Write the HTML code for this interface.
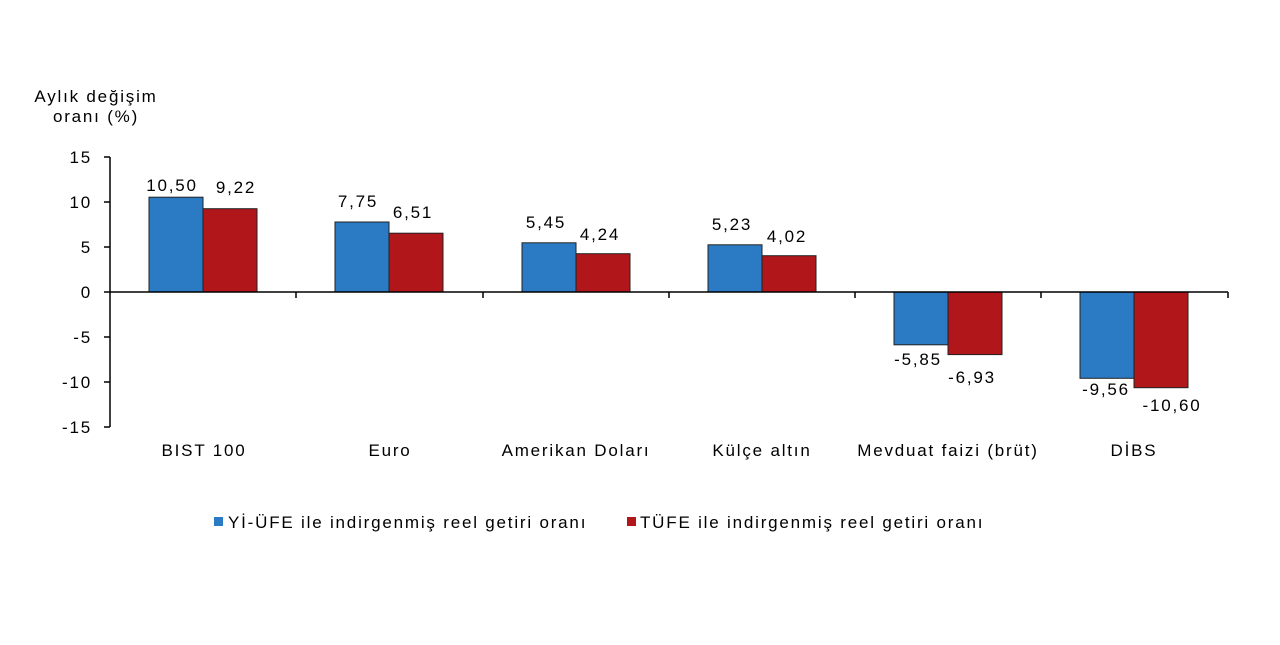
<!DOCTYPE html>
<html><head><meta charset="utf-8"><style>body{margin:0;background:#fff}</style></head><body>
<svg width="1280" height="640" xmlns="http://www.w3.org/2000/svg" font-family="Liberation Sans, sans-serif" fill="#000" letter-spacing="1.8">
<rect width="1280" height="640" fill="#fff"/>
<text x="96" y="102" font-size="17" text-anchor="middle">Aylık değişim</text>
<text x="96" y="122" font-size="17" text-anchor="middle">oranı (%)</text>
<g font-size="17" text-anchor="end">
<text x="92" y="163">15</text><text x="92" y="208">10</text><text x="92" y="253">5</text><text x="92" y="298">0</text>
<text x="92" y="343">-5</text><text x="92" y="388">-10</text><text x="92" y="433">-15</text>
</g>
<g stroke="#000" stroke-width="1.5">
<line x1="110" y1="157" x2="110" y2="427"/>
<line x1="104" y1="157" x2="110" y2="157"/><line x1="104" y1="202" x2="110" y2="202"/><line x1="104" y1="247" x2="110" y2="247"/>
<line x1="104" y1="337" x2="110" y2="337"/><line x1="104" y1="382" x2="110" y2="382"/><line x1="104" y1="427" x2="110" y2="427"/>
</g>
<g stroke="#222" stroke-width="1">
<rect x="149" y="197.2" width="54" height="94.8" fill="#2a7bc4"/><rect x="203" y="208.7" width="54" height="83.3" fill="#b0161a"/>
<rect x="335" y="222" width="54" height="70" fill="#2a7bc4"/><rect x="389" y="233.2" width="54" height="58.8" fill="#b0161a"/>
<rect x="522" y="242.8" width="54" height="49.2" fill="#2a7bc4"/><rect x="576" y="253.7" width="54" height="38.3" fill="#b0161a"/>
<rect x="708" y="244.8" width="54" height="47.2" fill="#2a7bc4"/><rect x="762" y="255.7" width="54" height="36.3" fill="#b0161a"/>
<rect x="894" y="292" width="54" height="52.8" fill="#2a7bc4"/><rect x="948" y="292" width="54" height="62.6" fill="#b0161a"/>
<rect x="1080" y="292" width="54" height="86.3" fill="#2a7bc4"/><rect x="1134" y="292" width="54" height="95.7" fill="#b0161a"/>
</g>
<g stroke="#000" stroke-width="1.5">
<line x1="104" y1="292" x2="1228" y2="292"/>
<line x1="296" y1="292" x2="296" y2="298"/><line x1="483" y1="292" x2="483" y2="298"/><line x1="669" y1="292" x2="669" y2="298"/>
<line x1="855" y1="292" x2="855" y2="298"/><line x1="1041" y1="292" x2="1041" y2="298"/><line x1="1228" y1="292" x2="1228" y2="298"/>
</g>
<g font-size="17" text-anchor="middle">
<text x="172" y="191">10,50</text><text x="236" y="193">9,22</text>
<text x="358" y="207">7,75</text><text x="413" y="218">6,51</text>
<text x="546" y="228">5,45</text><text x="600" y="240">4,24</text>
<text x="732" y="230">5,23</text><text x="787" y="242">4,02</text>
<text x="918" y="365">-5,85</text><text x="972" y="383">-6,93</text>
<text x="1106" y="395">-9,56</text><text x="1172" y="411">-10,60</text>
<text x="204" y="456">BIST 100</text><text x="390" y="456">Euro</text><text x="576" y="456">Amerikan Doları</text>
<text x="762" y="456">Külçe altın</text><text x="948" y="456">Mevduat faizi (brüt)</text><text x="1134" y="456">DİBS</text>
</g>
<rect x="214" y="517" width="9" height="9" fill="#2a7bc4"/>
<text x="228" y="528" font-size="17">Yİ-ÜFE ile indirgenmiş reel getiri oranı</text>
<rect x="627" y="517" width="9" height="9" fill="#b0161a"/>
<text x="640" y="528" font-size="17">TÜFE ile indirgenmiş reel getiri oranı</text>
</svg>
</body></html>
